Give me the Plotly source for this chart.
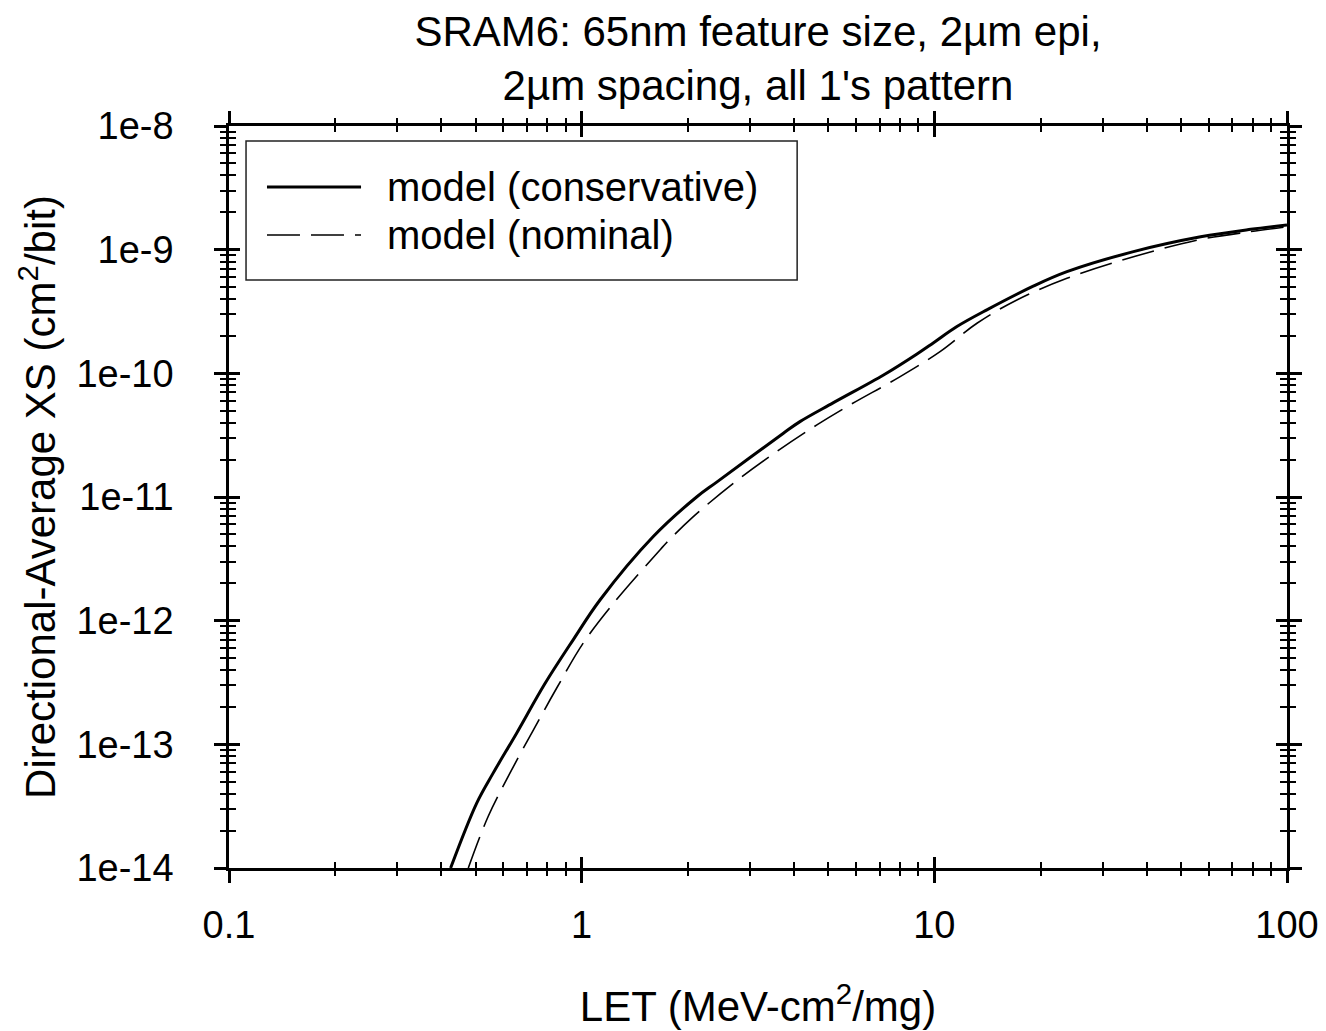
import plotly.graph_objects as go

# ---- data ----
let_conservative = [0.425, 0.504, 0.561, 0.654, 0.787, 0.946, 1.127, 1.596, 2.118, 2.415,
                    3.733, 4.159, 5.176, 7.178, 8.93, 9.95, 11.59, 14.09, 19.14, 23.77,
                    36.7, 56.9, 78.9, 100.0]
xs_conservative = [1.0e-14, 3.35e-14, 5.85e-14, 1.23e-13, 3.1e-13, 7.0e-13, 1.47e-12, 4.79e-12,
                   1.0e-11, 1.32e-11, 3.28e-11, 4.07e-11, 5.79e-11, 9.7e-11, 1.435e-10, 1.77e-10,
                   2.39e-10, 3.26e-10, 5.09e-10, 6.64e-10, 9.64e-10, 1.27e-9, 1.46e-9, 1.58e-9]

let_nominal = [0.477, 0.543, 0.626, 0.730, 0.849, 1.010, 1.230, 1.667, 1.780, 2.051, 2.692,
               3.573, 4.645, 5.768, 8.0, 10.38, 13.21, 17.14, 23.77, 36.7, 56.9, 78.9, 100.0]
xs_nominal = [1.0e-14, 2.61e-14, 5.85e-14, 1.31e-13, 2.84e-13, 6.58e-13, 1.38e-12, 3.73e-12,
              4.56e-12, 6.75e-12, 1.29e-11, 2.33e-11, 3.83e-11, 5.56e-11, 9.4e-11, 1.50e-10,
              2.54e-10, 3.92e-10, 5.87e-10, 8.77e-10, 1.21e-9, 1.40e-9, 1.53e-9]

series_names = ["model (conservative)", "model (nominal)"]

x_tickvals = [0.1, 1, 10, 100]
x_ticktext = ["0.1", "1", "10", "100"]
y_tickvals = [1e-14, 1e-13, 1e-12, 1e-11, 1e-10, 1e-9, 1e-8]
y_ticktext = ["1e-14", "1e-13", "1e-12", "1e-11", "1e-10", "1e-9", "1e-8"]

x_minor = [m * d for d in [0.1, 1, 10] for m in range(2, 10)]
y_minor = [m * d for d in [1e-14, 1e-13, 1e-12, 1e-11, 1e-10, 1e-9] for m in range(2, 10)]

FONT = "Liberation Sans, Arial, Helvetica, sans-serif"
X_RANGE = [-1, 2]
Y_RANGE = [-14, -8]

fig = go.Figure()
fig.add_trace(go.Scatter(x=let_conservative, y=xs_conservative, mode="lines",
                         name=series_names[0], showlegend=False,
                         line=dict(color="black", width=3, shape="spline", smoothing=1.0)))
fig.add_trace(go.Scatter(x=let_nominal, y=xs_nominal, mode="lines",
                         name=series_names[1], showlegend=False,
                         line=dict(color="black", width=1.6, dash="33px,11px",
                                   shape="spline", smoothing=1.0)))
# dummy trace for overlay axes (inside ticks)
fig.add_trace(go.Scatter(x=[], y=[], xaxis="x2", yaxis="y2", showlegend=False,
                         hoverinfo="skip"))

common = dict(type="log", showgrid=False, zeroline=False, linecolor="black", linewidth=2.5,
              tickcolor="black", tickwidth=2.5, mirror="allticks", automargin=False)

# the page body adds an 8px offset; the figure is sized to fit the window
fig.update_layout(
    width=1318, height=1023,
    margin=dict(l=221, r=39, t=118, b=163, autoexpand=False),
    paper_bgcolor="white", plot_bgcolor="white",
    font=dict(family=FONT, size=38, color="black"),
    showlegend=False,
    title=dict(text="SRAM6: 65nm feature size, 2µm epi,<br>2µm spacing, all 1's pattern",
               x=0.5, xref="paper", xanchor="center",
               y=0.963, yref="container", yanchor="middle",
               font=dict(family=FONT, size=42, color="black")),
    xaxis=dict(**common, range=X_RANGE, showline=True, ticks="outside", ticklen=12,
               tickmode="array", tickvals=x_tickvals, ticktext=x_ticktext,
               ticklabelstandoff=10, tickfont=dict(size=38),
               minor=dict(tickmode="array", tickvals=x_minor, ticks="outside", ticklen=5,
                          tickwidth=1.5, tickcolor="black"),
               title=dict(text="LET (MeV-cm<sup>2</sup>/mg)", standoff=47,
                          font=dict(family=FONT, size=42))),
    yaxis=dict(**common, range=Y_RANGE, showline=True, ticks="outside", ticklen=12,
               tickmode="array", tickvals=y_tickvals, ticktext=y_ticktext,
               ticklabelstandoff=33, tickfont=dict(size=38),
               minor=dict(tickmode="array", tickvals=y_minor, ticks="outside", ticklen=6,
                          tickwidth=1.5, tickcolor="black"),
               title=dict(text="Directional-Average XS (cm<sup>2</sup>/bit)", standoff=8,
                          font=dict(family=FONT, size=42))),
    xaxis2=dict(**common, range=X_RANGE, overlaying="x", side="bottom", showline=False,
                ticks="inside", ticklen=11, tickmode="array", tickvals=x_tickvals,
                showticklabels=False,
                minor=dict(tickmode="array", tickvals=x_minor, ticks="inside", ticklen=6,
                           tickwidth=1.5, tickcolor="black")),
    yaxis2=dict(**common, range=Y_RANGE, overlaying="y", side="left", showline=False,
                ticks="inside", ticklen=11, tickmode="array", tickvals=y_tickvals,
                showticklabels=False,
                minor=dict(tickmode="array", tickvals=y_minor, ticks="inside", ticklen=7,
                           tickwidth=1.5, tickcolor="black")),
)

# ---- legend box (drawn as in the reference: long line samples) ----
lg_x0, lg_x1, lg_y0, lg_y1 = 0.0161, 0.537, 0.7925, 0.9798
row_y = [0.9178, 0.8531]
samp_x0, samp_x1, text_x = 0.0359, 0.1248, 0.1474
fig.add_shape(type="rect", xref="paper", yref="paper", x0=lg_x0, x1=lg_x1, y0=lg_y0, y1=lg_y1,
              line=dict(color="#222", width=1.5), fillcolor="white", layer="above")
styles = [dict(color="black", width=3), dict(color="black", width=1.6, dash="33px,11px")]
for i, name in enumerate(series_names):
    fig.add_shape(type="line", xref="paper", yref="paper", x0=samp_x0, x1=samp_x1,
                  y0=row_y[i], y1=row_y[i], line=styles[i], layer="above")
    fig.add_annotation(xref="paper", yref="paper", x=text_x, y=row_y[i], text=name,
                       showarrow=False, xanchor="left", yanchor="middle",
                       font=dict(family=FONT, size=40, color="black"))

fig.write_html("out.html")
